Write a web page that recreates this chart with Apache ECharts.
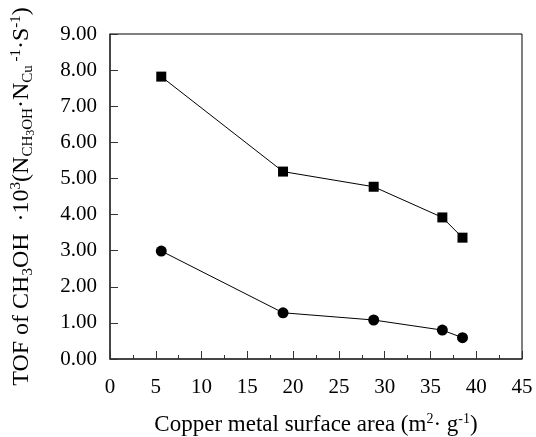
<!DOCTYPE html>
<html>
<head>
<meta charset="utf-8">
<script src="https://cdn.jsdelivr.net/npm/echarts@6/dist/echarts.min.js"></script>
<style>
  html, body { margin: 0; padding: 0; background: #fff; }
  #chart { width: 536px; height: 437px; }
</style>
</head>
<body>
<div id="chart"></div>
<script>
// Copper metal surface area (m2/g) of the catalysts
const surfaceArea = [5.6, 18.9, 28.8, 36.3, 38.5];
// TOF of CH3OH, upper series (squares) and lower series (circles)
const tofSquares = [7.82, 5.19, 4.77, 3.92, 3.36];
const tofCircles = [2.99, 1.28, 1.08, 0.80, 0.59];

const xTicks = { min: 0, max: 45, interval: 5 };
const yTicks = { min: 0, max: 9, interval: 1 };

const serif = 'Liberation Serif';

function pairs(xs, ys) {
  return xs.map((x, i) => [x, ys[i]]);
}

const chart = echarts.init(document.getElementById('chart'), null, { renderer: 'canvas' });

function richStyles(base) {
  return {
    a:    { fontFamily: serif, fontSize: base, color: '#000', lineHeight: 32 },
    sub:  { fontFamily: serif, fontSize: Math.round(base * 0.62), color: '#000', lineHeight: 32, padding: [12, 0, 0, 0] },
    sub2: { fontFamily: serif, fontSize: Math.round(base * 0.5), color: '#000', lineHeight: 32, padding: [18, 0, 0, 0] },
    sup:  { fontFamily: serif, fontSize: Math.round(base * 0.62), color: '#000', lineHeight: 32, padding: [0, 0, 12, 0] }
  };
}

chart.setOption({
  animation: false,
  backgroundColor: '#fff',
  grid: {
    left: 110, right: 14, top: 34, bottom: 78,
    outerBoundsMode: 'none',
    containLabel: false,
    show: true, borderColor: '#000', borderWidth: 1, backgroundColor: 'transparent'
  },
  xAxis: {
    type: 'value',
    min: xTicks.min, max: xTicks.max, interval: xTicks.interval,
    name: '{a|Copper metal surface area (m}{sup|2}{a|· g}{sup|-1}{a|)}',
    nameLocation: 'middle', nameGap: 50,
    nameTextStyle: { rich: richStyles(23) },
    axisLine: { show: true, lineStyle: { color: '#333', width: 1.5 } },
    axisTick: { show: true, inside: true, length: 8, lineStyle: { color: '#333' } },
    minorTick: { show: true, splitNumber: 2, length: 4, lineStyle: { color: '#333' } },
    splitLine: { show: false },
    axisLabel: { fontFamily: serif, fontSize: 21, color: '#000', margin: 18 }
  },
  yAxis: {
    type: 'value',
    min: yTicks.min, max: yTicks.max, interval: yTicks.interval,
    name: '{a|TOF of CH}{sub|3}{a|OH  ·10}{sup|3}{a|(N}{sub|CH}{sub2|3}{sub|OH}{a|·N}{sub|Cu}{sup| -1}{a|·S}{sup|-1}{a|)}',
    nameLocation: 'middle', nameGap: 72, nameRotate: 90,
    nameTextStyle: { rich: richStyles(24) },
    axisLine: { show: true, lineStyle: { color: '#333', width: 1.5 } },
    axisTick: { show: true, inside: true, length: 8, lineStyle: { color: '#333' } },
    splitLine: { show: false },
    axisLabel: {
      fontFamily: serif, fontSize: 21, color: '#000', margin: 13,
      formatter: v => v.toFixed(2)
    }
  },
  series: [
    {
      type: 'line',
      data: pairs(surfaceArea, tofSquares),
      symbol: 'rect', symbolSize: 10,
      lineStyle: { color: '#000', width: 1 },
      itemStyle: { color: '#000' }
    },
    {
      type: 'line',
      data: pairs(surfaceArea, tofCircles),
      symbol: 'circle', symbolSize: 11,
      lineStyle: { color: '#000', width: 1 },
      itemStyle: { color: '#000' }
    }
  ]
});
</script>
</body>
</html>
